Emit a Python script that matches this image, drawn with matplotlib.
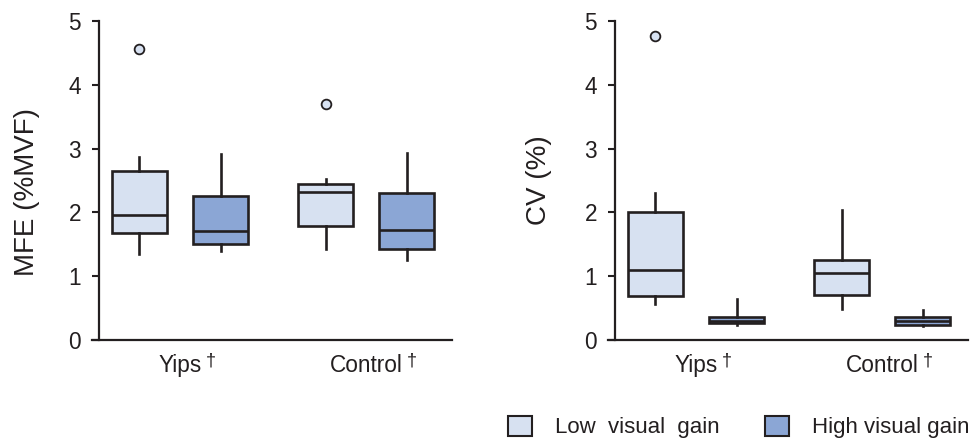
import matplotlib
matplotlib.use("Agg")
import matplotlib.pyplot as plt
from matplotlib.patches import Patch
from matplotlib.transforms import IdentityTransform

plt.rcParams["font.family"] = ["Liberation Sans", "DejaVu Sans"]

EDGE = "#231f20"
LOW_COLOR = "#d7e1f1"
HIGH_COLOR = "#8ba6d5"

groups = ["Yips", "Control"]
series = ["Low  visual  gain", "High visual gain"]

# five-number summaries per group: [Yips, Control]
mfe_low_whislo = [1.35, 1.42]
mfe_low_q1 = [1.68, 1.79]
mfe_low_med = [1.96, 2.32]
mfe_low_q3 = [2.65, 2.45]
mfe_low_whishi = [2.87, 2.53]
mfe_low_fliers = [[4.56], [3.70]]

mfe_high_whislo = [1.39, 1.26]
mfe_high_q1 = [1.50, 1.42]
mfe_high_med = [1.71, 1.73]
mfe_high_q3 = [2.25, 2.30]
mfe_high_whishi = [2.91, 2.93]
mfe_high_fliers = [[], []]

cv_low_whislo = [0.57, 0.48]
cv_low_q1 = [0.69, 0.71]
cv_low_med = [1.10, 1.05]
cv_low_q3 = [2.01, 1.25]
cv_low_whishi = [2.31, 2.04]
cv_low_fliers = [[4.76], []]

cv_high_whislo = [0.235, 0.22]
cv_high_q1 = [0.26, 0.23]
cv_high_med = [0.29, 0.295]
cv_high_q3 = [0.36, 0.363]
cv_high_whishi = [0.64, 0.47]
cv_high_fliers = [[], []]

ylabels = ["MFE (%MVF)", "CV (%)"]


def make_stats(whislo, q1, med, q3, whishi, fliers):
    return [
        dict(whislo=a, q1=b, med=c, q3=d, whishi=e, fliers=f)
        for a, b, c, d, e, f in zip(whislo, q1, med, q3, whishi, fliers)
    ]


def draw_panel(ax, low_stats, high_stats, ylabel, label_xy):
    offset = 0.218
    width = 0.296
    for stats, shift, color in ((low_stats, -offset, LOW_COLOR), (high_stats, offset, HIGH_COLOR)):
        pos = [i + 1 + shift for i in range(len(stats))]
        ax.bxp(
            stats,
            positions=pos,
            widths=width,
            patch_artist=True,
            showcaps=False,
            boxprops=dict(facecolor=color, edgecolor=EDGE, linewidth=1.9),
            medianprops=dict(color=EDGE, linewidth=1.9),
            whiskerprops=dict(color=EDGE, linewidth=1.9),
            flierprops=dict(marker="o", markerfacecolor=LOW_COLOR, markeredgecolor=EDGE,
                            markersize=7, markeredgewidth=1.3),
        )
    for spine in ("top", "right"):
        ax.spines[spine].set_visible(False)
    for spine in ("left", "bottom"):
        ax.spines[spine].set_color(EDGE)
        ax.spines[spine].set_linewidth(1.6)
    # moving the spine resets the ticks, so do it before styling them
    ax.spines["left"].set_position(("axes", 7 / 360))
    ax.set_xlim(0.527, 2.46)
    ax.set_ylim(0, 5)
    ax.set_xticks([1, 2])
    ax.set_xticklabels(groups)
    ax.set_yticks(range(6))
    ax.tick_params(axis="x", length=0, pad=10, labelsize=16.3, colors=EDGE)
    ax.tick_params(axis="y", length=5, width=1.5, pad=8, labelsize=16.3, colors=EDGE)
    ax.set_ylabel(ylabel, fontsize=20, color=EDGE)
    ax.yaxis.set_label_coords(*label_xy)


fig = plt.figure(figsize=(9.75, 4.41), dpi=100)
ax1 = fig.add_axes([92 / 975, 1 - 340 / 441, 360 / 975, 319 / 441])
ax2 = fig.add_axes([608 / 975, 1 - 340 / 441, 360 / 975, 319 / 441])

draw_panel(
    ax1,
    make_stats(mfe_low_whislo, mfe_low_q1, mfe_low_med, mfe_low_q3, mfe_low_whishi, mfe_low_fliers),
    make_stats(mfe_high_whislo, mfe_high_q1, mfe_high_med, mfe_high_q3, mfe_high_whishi, mfe_high_fliers),
    ylabels[0],
    (-0.145, 0.464),
)
draw_panel(
    ax2,
    make_stats(cv_low_whislo, cv_low_q1, cv_low_med, cv_low_q3, cv_low_whishi, cv_low_fliers),
    make_stats(cv_high_whislo, cv_high_q1, cv_high_med, cv_high_q3, cv_high_whishi, cv_high_fliers),
    ylabels[1],
    (-0.155, 0.5),
)

handles = [
    Patch(facecolor=LOW_COLOR, edgecolor=EDGE, linewidth=1.5, label=series[0]),
    Patch(facecolor=HIGH_COLOR, edgecolor=EDGE, linewidth=1.5, label=series[1]),
]
fig.legend(
    handles=handles,
    loc="center left",
    bbox_to_anchor=(508 / 975, 1 - 427 / 441),
    ncol=2,
    frameon=False,
    fontsize=16,
    handlelength=1.1,
    handleheight=1.05,
    handletextpad=1.0,
    columnspacing=2.05,
    borderpad=0,
    borderaxespad=0,
    labelcolor=EDGE,
)

# dagger after each group name, set just right of the tick label
fig.canvas.draw()
for ax in (ax1, ax2):
    for lab in ax.get_xticklabels():
        bb = lab.get_window_extent()
        fig.text(bb.x1 + 4, bb.y1 + 1, "\u2020", transform=IdentityTransform(),
                 fontsize=13, va="top", ha="left", color=EDGE)

fig.savefig("out.png", dpi=100)
